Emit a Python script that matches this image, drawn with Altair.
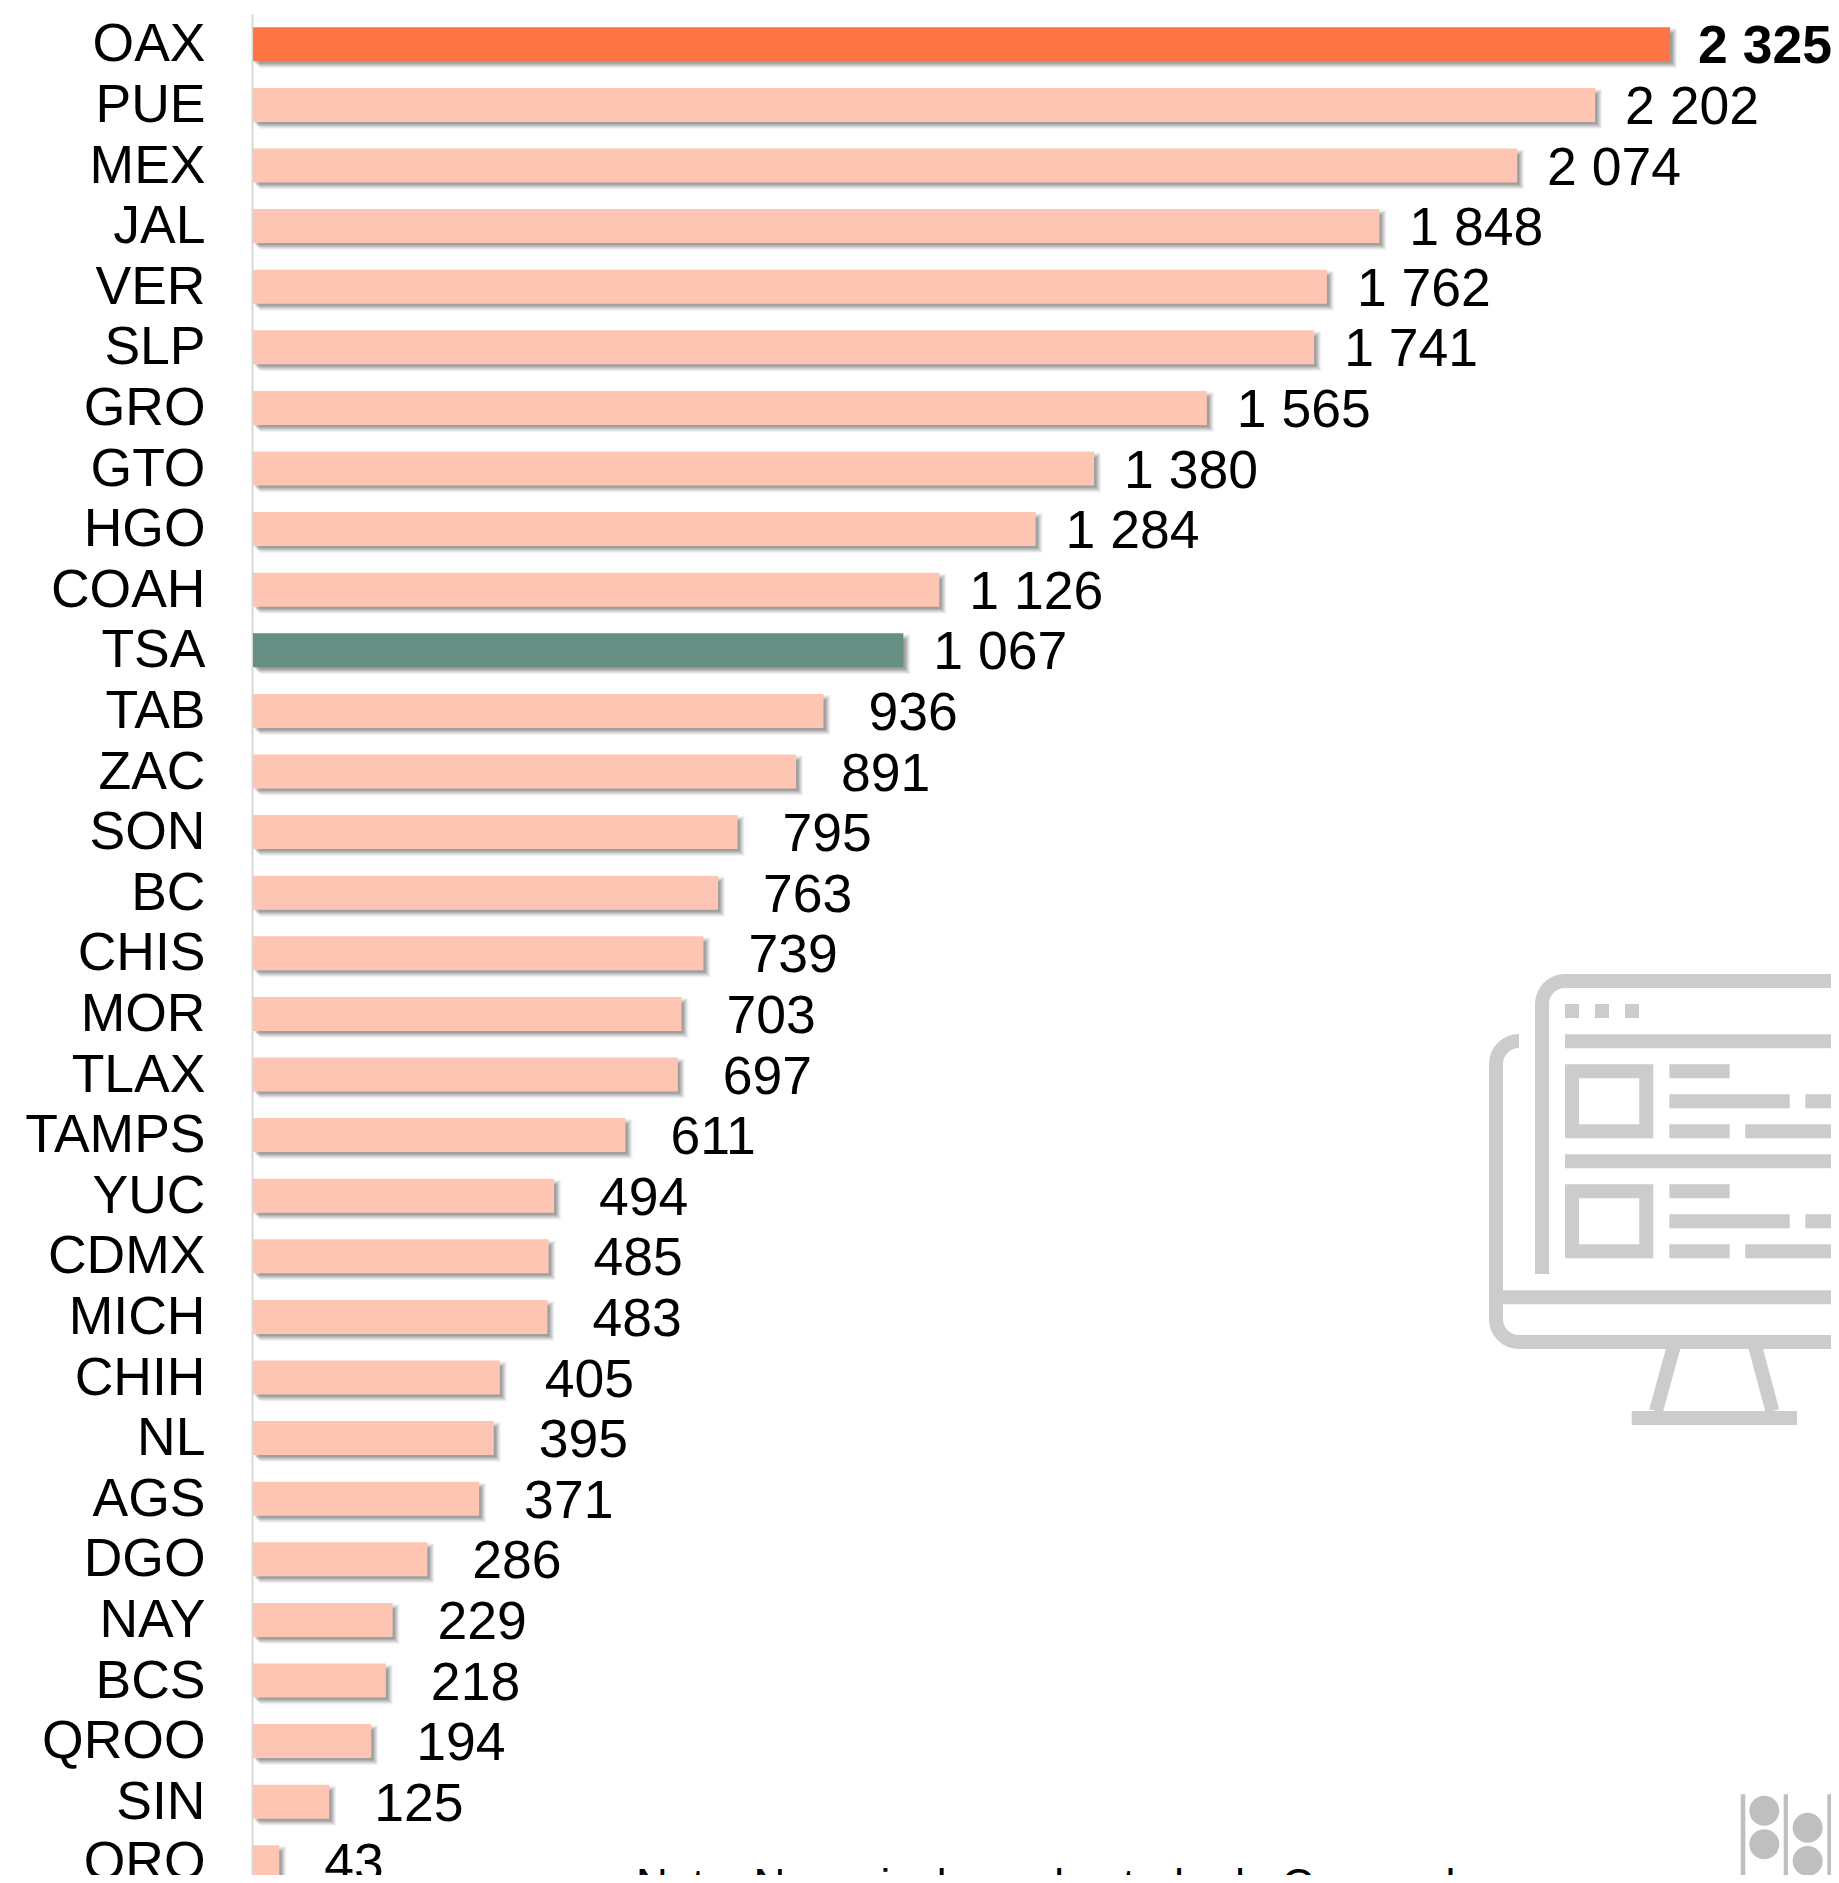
import altair as alt
import pandas as pd

states = ["OAX","PUE","MEX","JAL","VER","SLP","GRO","GTO","HGO","COAH","TSA","TAB","ZAC","SON","BC","CHIS","MOR","TLAX","TAMPS","YUC","CDMX","MICH","CHIH","NL","AGS","DGO","NAY","BCS","QROO","SIN","QRO"]
values = [2325,2202,2074,1848,1762,1741,1565,1380,1284,1126,1067,936,891,795,763,739,703,697,611,494,485,483,405,395,371,286,229,218,194,125,43]
kinds = ["max" if s == "OAX" else "avg" if s == "TSA" else "other" for s in states]
labels = [f"{v:,}".replace(",", " ") for v in values]
note = ["Nota: No se incluye el estado de Campeche"]

FONT = "Liberation Sans"
OX, OY = 253, 14  # plot origin in page coordinates
STEP = 60.6
BAR = 34
SIZE = 53.5


def seg(x1, y1, x2, y2):
    return f"M{x1-OX} {y1-OY}L{x2-OX} {y2-OY}"


R = 1860
parts = [
    f"M{1542-OX} {1274-OY}L{1542-OX} {1004-OY}A23 23 0 0 1 {1565-OX} {981-OY}L{R-OX} {981-OY}",
    f"M{1519-OX} {1041-OY}A23 23 0 0 0 {1496-OX} {1064-OY}L{1496-OX} {1319-OY}A23 23 0 0 0 {1519-OX} {1342-OY}L{R-OX} {1342-OY}",
    seg(1496, 1297.3, R, 1297.3),
    seg(1565, 1011, 1579, 1011), seg(1595, 1011, 1609, 1011), seg(1625, 1011, 1639, 1011),
    seg(1565, 1041.3, R, 1041.3), seg(1565, 1161.3, R, 1161.3),
    seg(1675, 1342, 1656, 1411), seg(1754, 1342, 1772.4, 1411), seg(1631.7, 1418, 1797, 1418),
]
for top in (1071.3, 1191.3):
    parts += [
        f"M{1572-OX} {top-OY}L{1646.3-OX} {top-OY}L{1646.3-OX} {top+60-OY}L{1572-OX} {top+60-OY}Z",
        seg(1669.3, top, 1729.7, top),
        seg(1669.3, top + 30, 1789.7, top + 30), seg(1805.3, top + 30, R, top + 30),
        seg(1669.3, top + 60, 1729.7, top + 60), seg(1745.3, top + 60, R, top + 60),
    ]
icon_path = "".join(parts)


def circle(cx, cy, r=15):
    x, y = cx - OX, cy - OY
    return f"M{x-r} {y}A{r} {r} 0 1 0 {x+r} {y}A{r} {r} 0 1 0 {x-r} {y}Z"


def box(x1, y1, x2, y2):
    a, b, c, d = x1 - OX, y1 - OY, x2 - OX, y2 - OY
    return f"M{a} {b}L{c} {b}L{c} {d}L{a} {d}Z"


logo_path = "".join([
    box(1740.7, 1794.3, 1745.3, 1900), box(1783.7, 1794.3, 1788, 1900), box(1827.3, 1794.3, 1831.7, 1900),
    circle(1764.3, 1810.7), circle(1764.3, 1844.3),
    circle(1807.7, 1827.7), circle(1807.7, 1861), circle(1807.7, 1894.5),
    circle(1851.7, 1845), circle(1851.7, 1878),
])

df = pd.DataFrame({"state": states, "value": values, "kind": kinds, "label": labels})

W = 1823 - 245
H = 1867 - 6
xs = alt.Scale(domain=[0, W / 0.6095], nice=False, zero=True)
ys = alt.Scale(domain=states, range=[0, STEP * 31], paddingInner=0, paddingOuter=0)
X = alt.X("value:Q", scale=xs, axis=None)
Y = alt.Y("state:N", sort=states, scale=ys, title=None,
          axis=alt.Axis(ticks=False, labelFont=FONT, labelFontSize=SIZE, labelColor="black", labelLimit=400,
                        labelPadding=47, offset=1, domainColor="#D9D9D9", domainWidth=2,
                        grid=False, labelOverlap=False, labelOffset=1))

layers = []
for d, op in [(3, 0.06), (2, 0.08), (1, 0.1), (0, 0.12), (-1, 0.14), (-2, 0.14)]:
    layers.append(
        alt.Chart(df).mark_bar(size=BAR + 2 * d, color="#404040", opacity=op, xOffset=4 + d, x2Offset=4 - d, yOffset=4)
        .encode(x=X, y=Y)
    )

bars = alt.Chart(df).mark_bar(size=BAR).encode(
    x=X, y=Y,
    color=alt.Color("kind:N", legend=None,
                    scale=alt.Scale(domain=["max", "avg", "other"], range=["#FF7545", "#668E83", "#FDC5B2"])),
)
text_big = alt.Chart(df[(df.value >= 1000) & (df.kind != "max")]).mark_text(align="left", baseline="middle", dx=30, dy=3, font=FONT, fontSize=SIZE, color="black").encode(
    x=X, y=Y, text="label:N",
)
text_small = alt.Chart(df[df.value < 1000]).mark_text(align="left", baseline="middle", dx=45, dy=3, font=FONT, fontSize=SIZE, color="black").encode(
    x=X, y=Y, text="label:N",
)
text_bold = alt.Chart(df[df.kind == "max"]).mark_text(align="left", baseline="middle", dx=28, dy=3, font=FONT, fontSize=SIZE, fontWeight="bold", color="black").encode(
    x=X, y=Y, text="label:N",
)
note_layer = alt.Chart(pd.DataFrame({"t": note})).mark_text(
    align="left", baseline="alphabetic", font=FONT, fontSize=44, color="black"
).encode(x=alt.value(636 - OX), y=alt.value(1899.5 - OY), text="t:N")
icon = alt.Chart(pd.DataFrame({"a": [0]})).mark_point(
    shape=icon_path, size=4, filled=False, stroke="#CCCCCC", strokeWidth=14, opacity=1, strokeJoin="miter"
).encode(x=alt.value(0), y=alt.value(0))
logo = alt.Chart(pd.DataFrame({"a": [0]})).mark_point(
    shape=logo_path, size=4, filled=True, fill="#BFBFBF", opacity=1, strokeWidth=0
).encode(x=alt.value(0), y=alt.value(0))

chart = alt.layer(*layers, bars, text_big, text_small, text_bold, note_layer, icon, logo).properties(
    width=W, height=H,
    padding={"left": 245, "top": 6, "right": 0, "bottom": 0},
    autosize=alt.AutoSizeParams(type="none"),
).configure_view(stroke=None)

chart.save("out.html", embed_options={"renderer": "svg", "actions": False})
